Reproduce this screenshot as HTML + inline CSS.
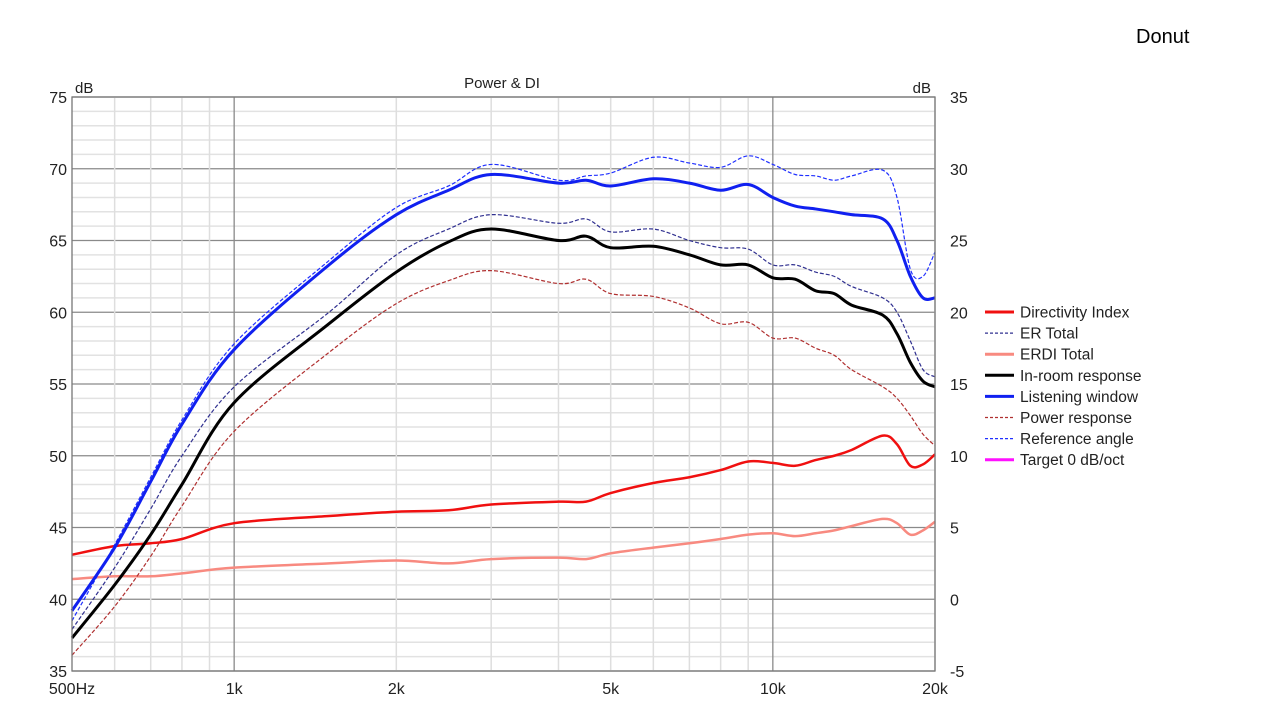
<!DOCTYPE html>
<html><head><meta charset="utf-8"><style>
body{margin:0;background:#fff;font-family:"Liberation Sans",sans-serif}
svg text{font-family:"Liberation Sans",sans-serif}
</style></head><body>
<svg id="c" width="1280" height="720" xmlns="http://www.w3.org/2000/svg">
<text x="1136" y="43" font-size="20" fill="#000">Donut</text>
<text x="502" y="88" font-size="15" text-anchor="middle" fill="#222">Power &amp; DI</text>
<text x="75" y="93" font-size="15" fill="#222">dB</text>
<text x="931" y="93" font-size="15" text-anchor="end" fill="#222">dB</text>
<g id="grid"></g><g id="series"></g><g id="axes"></g><g id="legend"></g>
</svg>
<script>
const freqs=[500,600,700,800,1000,1500,2000,2500,3000,4000,4500,5000,6000,7000,8000,9000,10000,11000,12000,13000,14000,16000,17000,18000,19000,20000];
const listeningWindow=[39.2,43.6,48.2,52.2,57.4,63.3,66.8,68.5,69.6,69,69.2,68.8,69.3,69,68.5,68.9,68,67.4,67.2,67,66.8,66.5,65,62.5,61,61];
const referenceAngle=[38.5,43.8,48.5,52.5,57.8,63.6,67.3,68.8,70.3,69.2,69.5,69.7,70.8,70.4,70.1,70.9,70.3,69.6,69.5,69.2,69.5,69.9,68,63,62.5,64.2];
const erTotal=[37.9,42.2,46.3,50,54.8,60,64,65.8,66.8,66.2,66.5,65.6,65.8,65,64.5,64.4,63.3,63.3,62.8,62.5,61.8,61,60,58,56,55.5];
const inRoom=[37.3,41,44.5,48,53.7,59.2,62.8,64.9,65.8,65,65.3,64.5,64.6,64,63.3,63.3,62.4,62.3,61.5,61.3,60.5,59.8,58.5,56.5,55.2,54.8];
const powerResp=[36.1,39.5,43,46.5,51.7,57.2,60.6,62.2,62.9,62,62.3,61.3,61.1,60.3,59.2,59.3,58.2,58.2,57.5,57,56,54.8,54,52.8,51.5,50.7];
const directivity=[3.1,3.7,3.9,4.2,5.3,5.8,6.1,6.2,6.6,6.8,6.8,7.4,8.1,8.5,9.0,9.6,9.5,9.3,9.7,10.0,10.4,11.4,10.8,9.3,9.4,10.1];
const erdi=[1.4,1.6,1.6,1.8,2.2,2.5,2.7,2.5,2.8,2.9,2.8,3.2,3.6,3.9,4.2,4.5,4.6,4.4,4.6,4.8,5.1,5.6,5.3,4.5,4.8,5.4];
const leftTicks=[75,70,65,60,55,50,45,40,35];
const rightTicks=[35,30,25,20,15,10,5,0,-5];
const xTickLabels=[[500,"500Hz"],[1000,"1k"],[2000,"2k"],[5000,"5k"],[10000,"10k"],[20000,"20k"]];
const L=72,R=935,T=97,B=671,NS="http://www.w3.org/2000/svg";
const X=f=>L+(R-L)*Math.log(f/500)/Math.log(40);
const Y=d=>T+(B-T)*(75-d)/40;
const YR=d=>Y(d+40);
function mk(t,a,p){const e=document.createElementNS(NS,t);for(const k in a)e.setAttribute(k,a[k]);p.appendChild(e);return e;}
const g=document.getElementById('grid'),ax=document.getElementById('axes'),s=document.getElementById('series'),lg=document.getElementById('legend');
for(let d=35;d<=75;d++){const l=mk('line',{x1:L,x2:R,y1:Y(d),y2:Y(d),stroke:d%5?'#e2e2e2':'#8a8a8a','stroke-width':d%5?1.5:1.3},g);

}
const vf=[600,700,800,900,2000,3000,4000,5000,6000,7000,8000,9000,20000];
vf.forEach(f=>{const l=mk('line',{x1:X(f),x2:X(f),y1:T,y2:B,stroke:'#dedede','stroke-width':1.5},g);

});
[1000,10000].forEach(f=>{const l=mk('line',{x1:X(f),x2:X(f),y1:T,y2:B,stroke:'#8a8a8a','stroke-width':1.3},g);

});
const fr=mk('rect',{x:L,y:T,width:R-L,height:B-T,fill:'none',stroke:'#777','stroke-width':1.3},ax);


leftTicks.forEach(v=>{const t=mk('text',{x:67,y:Y(v)+6,'font-size':16,'text-anchor':'end',fill:'#222'},ax);t.textContent=v;

});
rightTicks.forEach(v=>{const t=mk('text',{x:950,y:YR(v)+6,'font-size':16,fill:'#222'},ax);t.textContent=v;

});
xTickLabels.forEach(([f,lab])=>{const t=mk('text',{x:X(f),y:694,'font-size':16,'text-anchor':'middle',fill:'#222'},ax);t.textContent=lab;

});
function path(vals,yf){const p=freqs.map((f,i)=>[X(f),yf(vals[i])]);let d='M'+p[0][0]+','+p[0][1];
for(let i=0;i<p.length-1;i++){const p0=p[Math.max(0,i-1)],p1=p[i],p2=p[i+1],p3=p[Math.min(p.length-1,i+2)];
const c1=[p1[0]+(p2[0]-p0[0])/6,p1[1]+(p2[1]-p0[1])/6],c2=[p2[0]-(p3[0]-p1[0])/6,p2[1]-(p3[1]-p1[1])/6];
d+=` C${c1[0]},${c1[1]} ${c2[0]},${c2[1]} ${p2[0]},${p2[1]}`;}return d;}
const series=[
[erdi,YR,'#f88a80',2.5,null,'erdi-total-line'],
[directivity,YR,'#f01010',2.5,null,'directivity-index-line'],
[powerResp,Y,'#b03030',1.2,'4,2','power-response-line'],
[erTotal,Y,'#303090',1.2,'4,2','er-total-line'],
[inRoom,Y,'#000',3,null,'in-room-response-line'],
[referenceAngle,Y,'#2030ff',1.2,'4,2','reference-angle-line'],
[listeningWindow,Y,'#1020f0',3,null,'listening-window-line']];
series.forEach(([v,yf,c,w,da,n])=>{const a={d:path(v,yf),fill:'none',stroke:c,'stroke-width':w};if(da)a['stroke-dasharray']=da;const e=mk('path',a,s);

});
const leg=[['Directivity Index','#f01010',3,null],['ER Total','#303090',1.2,'3,2'],['ERDI Total','#f88a80',3,null],['In-room response','#000',3,null],['Listening window','#1020f0',3,null],['Power response','#b03030',1.2,'3,2'],['Reference angle','#2030ff',1.2,'3,2'],['Target 0 dB/oct','#ff10ff',3,null]];
leg.forEach(([n,c,w,da],i)=>{const y=312+i*21.1;const a={x1:985,x2:1014,y1:y,y2:y,stroke:c,'stroke-width':w};if(da)a['stroke-dasharray']=da;
const l=mk('line',a,lg);


const t=mk('text',{x:1020,y:y+5.5,'font-size':15.5,fill:'#222'},lg);t.textContent=n;

});
</script>
</body></html>
